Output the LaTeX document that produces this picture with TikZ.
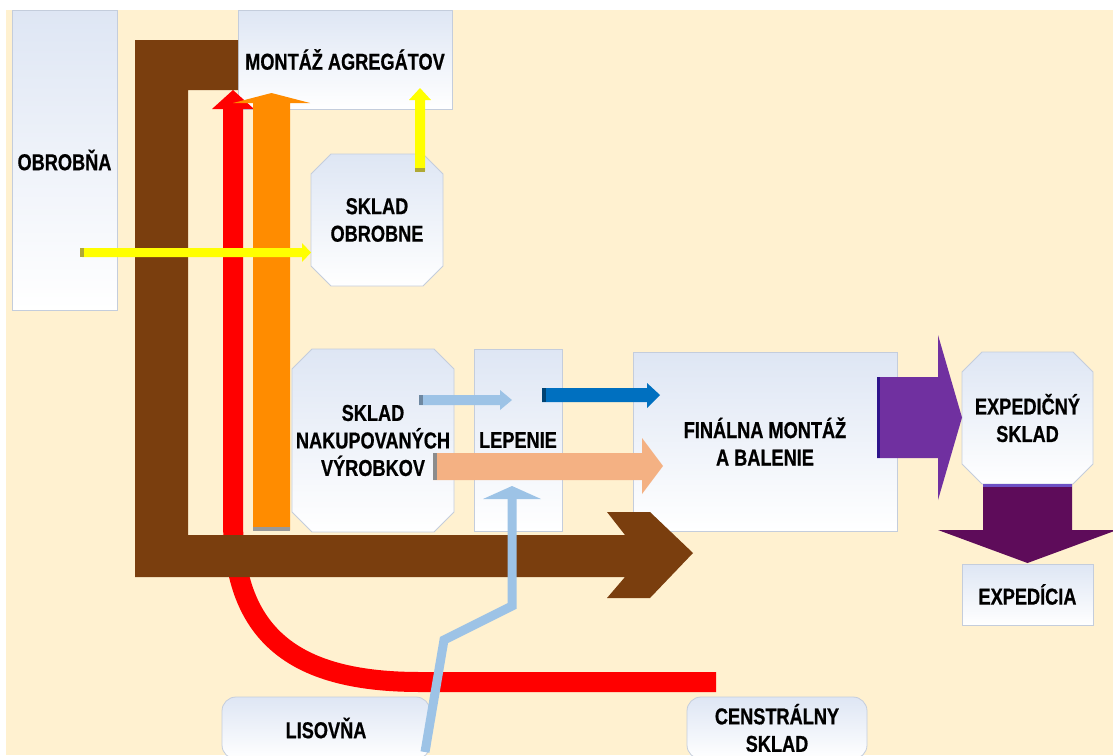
\documentclass[tikz,border=0pt]{standalone}
\usepackage{fontspec}
\setmainfont{Liberation Sans}[FakeStretch=0.79, BoldFeatures={FakeBold=0.6}]
\usetikzlibrary{shapes.misc}

\definecolor{bgbeige}{RGB}{255,241,208}
\definecolor{boxtop}{RGB}{222,230,244}
\definecolor{boxline}{RGB}{196,205,220}
\definecolor{brownflow}{RGB}{122,62,14}
\definecolor{orangeflow}{RGB}{255,140,0}
\definecolor{yellowflow}{RGB}{255,255,0}
\definecolor{peachflow}{RGB}{244,177,131}
\definecolor{lblueflow}{RGB}{157,195,230}
\definecolor{dblueflow}{RGB}{0,112,192}
\definecolor{purpleflow}{RGB}{112,48,160}
\definecolor{dpurpleflow}{RGB}{94,12,90}

\tikzset{
  box/.style={draw=boxline, line width=0.8pt, top color=boxtop, bottom color=white,
    align=center, inner sep=0pt, font=\fontsize{23}{27.5}\selectfont\bfseries},
  cbox/.style={box, chamfered rectangle, chamfered rectangle xsep=10pt, chamfered rectangle ysep=10pt,
    inner xsep=-10pt, inner ysep=-10pt},
  rbox/.style={box, rounded corners=14pt},
  tailgrey/.style={fill=black!40},
}

\begin{document}
\begin{tikzpicture}[x=1pt,y=-1pt]
  \useasboundingbox (0,0) rectangle (1113,755);
  \fill[white] (0,0) rectangle (1113,755);
  \fill[bgbeige] (6,10) rectangle (1113,755);

  % halls and stores
  \node[box, minimum width=105, minimum height=300] (obrobna) at (64.5,160) {OBROBŇA};
  \node[box, minimum width=214, minimum height=99] (montaz) at (345,59.5) {MONTÁŽ AGREGÁTOV};
  \node[cbox, minimum width=132, minimum height=132] (skladobr) at (377,220) {SKLAD\\OBROBNE};
  \node[cbox, minimum width=162, minimum height=183] (skladnak) at (373,440.5) {SKLAD\\NAKUPOVANÝCH\\VÝROBKOV};
  \node[box, minimum width=88, minimum height=182] (lepenie) at (518,440) {LEPENIE};
  \node[box, minimum width=264, minimum height=179] (finalna) at (765,441.5) {FINÁLNA MONTÁŽ\\A BALENIE};
  \node[cbox, minimum width=131, minimum height=132] (expsklad) at (1027.5,418) {EXPEDIČNÝ\\SKLAD};
  \node[box, minimum width=131, minimum height=61] (expedicia) at (1027.5,594.5) {EXPEDÍCIA};
  \node[rbox, minimum width=208, minimum height=62] (lisovna) at (326,728) {LISOVŇA};
  \node[rbox, minimum width=180, minimum height=62] (centralny) at (777,728) {CENSTRÁLNY\\SKLAD};

  % red flow from central store
  \draw[red, line width=20pt] (716,682) -- (420,682) .. controls (300,682) and (233,640) .. (233,520) -- (233,108);
  \fill[red] (212,109) -- (233,90) -- (254,109) -- cycle;

  % brown flow
  \fill[brownflow] (135,40) -- (238,40) -- (238,90) -- (188,90) -- (188,535) -- (625,535) -- (607,512)
    -- (650,512) -- (693,553) -- (650,598) -- (607,598) -- (625,577) -- (135,577) -- cycle;

  % orange flow
  \fill[orangeflow] (253,530) -- (253,103) -- (233,103) -- (271.5,93) -- (310,103) -- (290,103) -- (290,530) -- cycle;
  \fill[tailgrey] (253,527) rectangle (290,531);

  % yellow flows
  \fill[yellowflow] (82,248) -- (302,248) -- (302,243) -- (311,252.5) -- (302,262) -- (302,257) -- (82,257) -- cycle;
  \fill[olive!70] (80,248) rectangle (84,257);
  \fill[yellowflow] (415,171) -- (415,100) -- (409,100) -- (420,88) -- (431,100) -- (425,100) -- (425,171) -- cycle;
  \fill[olive!70] (415,168) rectangle (425,172);

  % blue and peach flows
  \fill[lblueflow] (419,395) -- (500,395) -- (500,390) -- (512,400) -- (500,410) -- (500,405) -- (419,405) -- cycle;
  \fill[lblueflow!70!black] (419,395) rectangle (423,405);
  \fill[dblueflow] (542,388) -- (647,388) -- (647,383) -- (660,395) -- (647,408) -- (647,402) -- (542,402) -- cycle;
  \fill[dblueflow!60!black] (542,388) rectangle (546,402);
  \fill[peachflow] (433,453) -- (642,453) -- (642,438) -- (663,466) -- (642,494) -- (642,480) -- (433,480) -- cycle;
  \fill[black!45] (433,453) rectangle (437,480);

  % pressed parts to gluing
  \draw[lblueflow, line width=9pt, line join=miter] (425,752) -- (444,640) -- (512,606) -- (512,498);
  \fill[lblueflow] (483,499) -- (512,486) -- (541,499) -- cycle;

  % purple flows
  \fill[purpleflow] (877,377) -- (938,377) -- (938,335) -- (962,417.5) -- (938,500) -- (938,458) -- (877,458) -- cycle;
  \fill[purpleflow!60!blue!70!black] (877,377) rectangle (880,458);
  \fill[dpurpleflow] (983,484) -- (983,530) -- (938,530) -- (1027.5,563) -- (1117,530) -- (1072,530) -- (1072,484) -- cycle;
  \fill[dpurpleflow!50!blue!70!white] (983,484) rectangle (1072,487);
\end{tikzpicture}
\end{document}
